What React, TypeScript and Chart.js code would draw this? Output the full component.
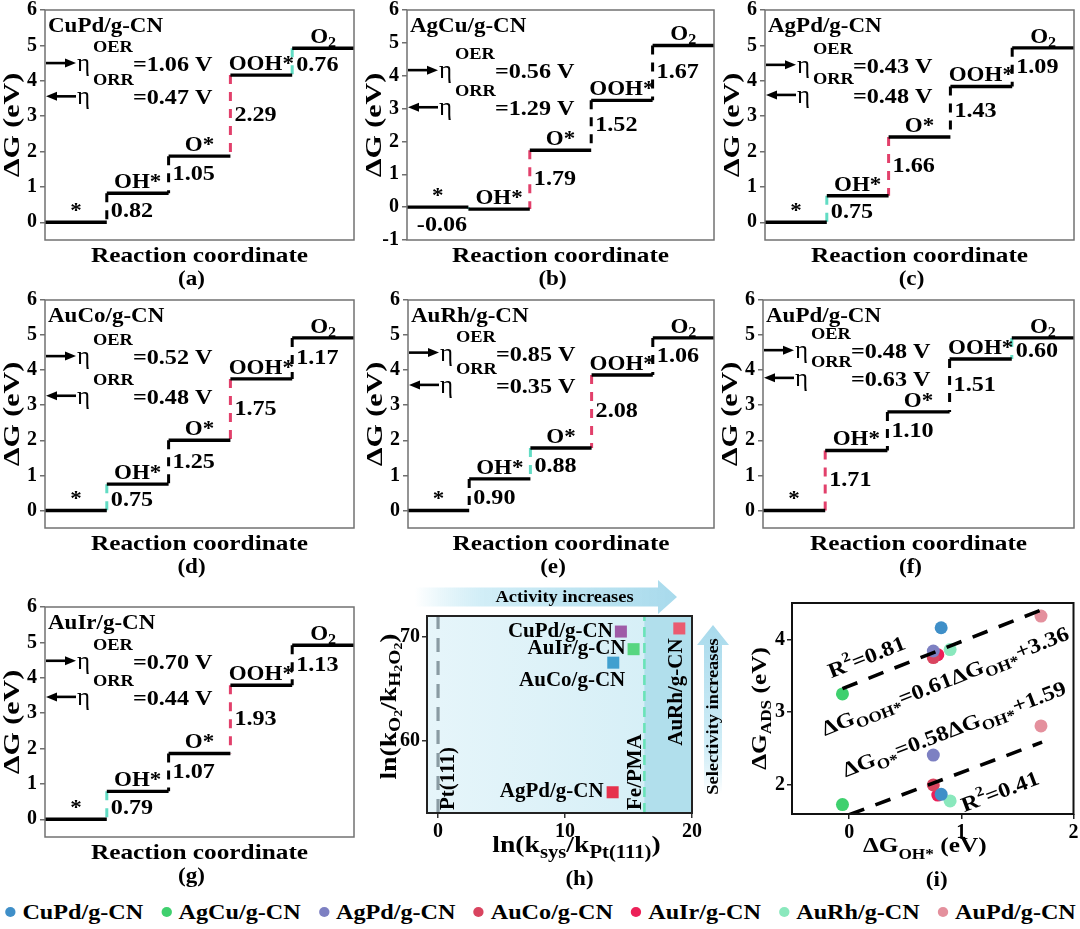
import React, { useEffect, useRef } from 'react';
import { Chart, registerables } from 'chart.js';
Chart.register(...registerables);

const FAM = '"Liberation Serif", "Times New Roman", Times, serif';
const K = 1.15;

// ---------------- data: free-energy diagrams (a)-(g) ----------------
const speciesLabels = ['*', 'OH*', 'O*', 'OOH*', 'O2'];
const panelNames = ['CuPd/g-CN', 'AgCu/g-CN', 'AgPd/g-CN', 'AuCo/g-CN', 'AuRh/g-CN', 'AuPd/g-CN', 'AuIr/g-CN'];

const levelsCuPd = [0, 0.82, 1.87, 4.16, 4.92];
const levelsAgCu = [0, -0.06, 1.73, 3.25, 4.92];
const levelsAgPd = [0, 0.75, 2.41, 3.84, 4.93];
const levelsAuCo = [0, 0.75, 2.0, 3.75, 4.92];
const levelsAuRh = [0, 0.9, 1.78, 3.86, 4.92];
const levelsAuPd = [0, 1.71, 2.81, 4.32, 4.92];
const levelsAuIr = [0, 0.79, 1.86, 3.79, 4.92];

const stepsCuPd = [0.82, 1.05, 2.29, 0.76];
const stepsAgCu = [-0.06, 1.79, 1.52, 1.67];
const stepsAgPd = [0.75, 1.66, 1.43, 1.09];
const stepsAuCo = [0.75, 1.25, 1.75, 1.17];
const stepsAuRh = [0.9, 0.88, 2.08, 1.06];
const stepsAuPd = [1.71, 1.1, 1.51, 0.6];
const stepsAuIr = [0.79, 1.07, 1.93, 1.13];

const etaOER = [1.06, 0.56, 0.43, 0.52, 0.85, 0.48, 0.7];
const etaORR = [0.47, 1.29, 0.48, 0.48, 0.35, 0.63, 0.44];

const energyTicks = [0, 1, 2, 3, 4, 5, 6];
const energyTicksAgCu = [-1, 0, 1, 2, 3, 4, 5, 6];

const allLevels = [levelsCuPd, levelsAgCu, levelsAgPd, levelsAuCo, levelsAuRh, levelsAuPd, levelsAuIr];
const allSteps = [stepsCuPd, stepsAgCu, stepsAgPd, stepsAuCo, stepsAuRh, stepsAuPd, stepsAuIr];

// ---------------- data: panel (h) ----------------
const hNames = ['CuPd/g-CN', 'AuIr/g-CN', 'AuCo/g-CN', 'AgPd/g-CN', 'AuRh/g-CN'];
const hX = [14.4, 15.4, 13.8, 13.75, 19.0];
const hY = [70.5, 68.8, 67.5, 55.0, 70.8];
const hColors = ['#9f5ba7', '#57d680', '#41a0cf', '#e6324c', '#ea5b70'];
const hRefX = [0, 16.25];
const hRefNames = ['Pt(111)', 'Fe/PMA'];
const hXTicks = [0, 10, 20];
const hYTicks = [60, 70];

// ---------------- data: panel (i) ----------------
const iNames = ['CuPd/g-CN', 'AgCu/g-CN', 'AgPd/g-CN', 'AuCo/g-CN', 'AuIr/g-CN', 'AuRh/g-CN', 'AuPd/g-CN'];
const iColors = ['#3f8fc8', '#3fd06e', '#7d80c2', '#d9445f', '#ec2058', '#8ae8bd', '#e4909d'];
const iOH = [0.82, -0.06, 0.75, 0.75, 0.79, 0.9, 1.71];
const iOOH = [4.16, 3.25, 3.84, 3.75, 3.79, 3.86, 4.32];
const iO = [1.87, 1.73, 2.41, 2.0, 1.86, 1.78, 2.81];
const fitOOH = { slope: 0.61, intercept: 3.36, r2: '0.81', from: -0.06, to: 1.72 };
const fitO = { slope: 0.58, intercept: 1.59, r2: '0.41', from: 0.0, to: 1.72 };
const iXTicks = [0, 1, 2];
const iYTicks = [2, 3, 4];

// ---------------- layout ----------------
type Rect = [number, number, number, number];
const stepLayout: { tag: string; canvas: Rect; plot: Rect; yMin: number; oerY: number; orrY: number }[] = [
  { tag: '(a)', canvas: [0, 0, 360, 290], plot: [45, 10, 354, 240], yMin: -0.5, oerY: 4.5, orrY: 3.56 },
  { tag: '(b)', canvas: [360, 0, 360, 290], plot: [407, 10, 714, 240], yMin: -1, oerY: 4.17, orrY: 3.04 },
  { tag: '(c)', canvas: [720, 0, 360, 290], plot: [765, 10, 1074, 240], yMin: -0.5, oerY: 4.45, orrY: 3.6 },
  { tag: '(d)', canvas: [0, 290, 360, 290], plot: [45, 300, 354, 528], yMin: -0.5, oerY: 4.4, orrY: 3.27 },
  { tag: '(e)', canvas: [360, 290, 360, 290], plot: [408, 300, 714, 528], yMin: -0.5, oerY: 4.5, orrY: 3.58 },
  { tag: '(f)', canvas: [720, 290, 360, 290], plot: [763, 300, 1074, 528], yMin: -0.5, oerY: 4.57, orrY: 3.78 },
  { tag: '(g)', canvas: [0, 580, 360, 310], plot: [45, 607, 354, 837], yMin: -0.5, oerY: 4.48, orrY: 3.46 },
];
const hLayout = { canvas: [360, 580, 380, 310] as Rect, plot: [427, 616, 692, 813] as Rect };
const iLayout = { canvas: [740, 580, 340, 310] as Rect, plot: [792, 603, 1074, 814] as Rect };

// ---------------- drawing helpers ----------------
type Seg = { t: string; s: number; dy?: number };
type RichOpt = { align?: 'left' | 'center' | 'right'; rot?: number; base?: CanvasTextBaseline; color?: string; k?: number; w?: string };
function drawRich(ctx: CanvasRenderingContext2D, x: number, y: number, segs: Seg[], opt: RichOpt = {}) {
  const k = opt.k ?? K;
  const w = opt.w ?? 'bold';
  ctx.save();
  ctx.translate(x, y);
  if (opt.rot) ctx.rotate(opt.rot);
  ctx.scale(k, 1);
  ctx.textBaseline = opt.base ?? 'alphabetic';
  ctx.textAlign = 'left';
  ctx.fillStyle = opt.color ?? '#000';
  const widths = segs.map((g) => {
    ctx.font = `${w} ${g.s}px ${FAM}`;
    return ctx.measureText(g.t).width;
  });
  const total = widths.reduce((a, b) => a + b, 0);
  let cx = opt.align === 'center' ? -total / 2 : opt.align === 'right' ? -total : 0;
  segs.forEach((g, i) => {
    ctx.font = `${w} ${g.s}px ${FAM}`;
    ctx.fillText(g.t, cx, g.dy ?? 0);
    cx += widths[i];
  });
  ctx.restore();
}

function smallArrow(ctx: CanvasRenderingContext2D, x0: number, x1: number, y: number, dir: 'right' | 'left') {
  const head = 11, hw = 4.5;
  ctx.save();
  ctx.strokeStyle = '#000';
  ctx.fillStyle = '#000';
  ctx.lineWidth = 2.6;
  ctx.beginPath();
  if (dir === 'right') {
    ctx.moveTo(x0, y); ctx.lineTo(x1 - head + 1, y); ctx.stroke();
    ctx.beginPath(); ctx.moveTo(x1, y); ctx.lineTo(x1 - head, y - hw); ctx.lineTo(x1 - head, y + hw); ctx.closePath(); ctx.fill();
  } else {
    ctx.moveTo(x0 + head - 1, y); ctx.lineTo(x1, y); ctx.stroke();
    ctx.beginPath(); ctx.moveTo(x0, y); ctx.lineTo(x0 + head, y - hw); ctx.lineTo(x0 + head, y + hw); ctx.closePath(); ctx.fill();
  }
  ctx.restore();
}

function bigArrow(ctx: CanvasRenderingContext2D, x0: number, y0: number, x1: number, y1: number, shaft: number, head: number, headLen: number) {
  const ang = Math.atan2(y1 - y0, x1 - x0);
  const len = Math.hypot(x1 - x0, y1 - y0);
  ctx.save();
  ctx.translate(x0, y0);
  ctx.rotate(ang);
  const g = ctx.createLinearGradient(0, 0, len, 0);
  g.addColorStop(0, 'rgba(190,230,243,0)');
  g.addColorStop(0.25, 'rgba(205,236,246,0.9)');
  g.addColorStop(1, 'rgba(168,218,236,1)');
  ctx.fillStyle = g;
  ctx.beginPath();
  ctx.moveTo(0, -shaft / 2);
  ctx.lineTo(len - headLen, -shaft / 2);
  ctx.lineTo(len - headLen, -head / 2);
  ctx.lineTo(len, 0);
  ctx.lineTo(len - headLen, head / 2);
  ctx.lineTo(len - headLen, shaft / 2);
  ctx.lineTo(0, shaft / 2);
  ctx.closePath();
  ctx.fill();
  ctx.restore();
}

const tickFont = { family: FAM, weight: 'bold' as const, size: 20 };

function fixedAxis(kind: 'x' | 'y', size: number, ticks?: number[]) {
  return {
    afterFit: (s: any) => {
      if (kind === 'x') s.height = size; else s.width = size;
      s.paddingLeft = 0; s.paddingRight = 0; s.paddingTop = 0; s.paddingBottom = 0;
    },
    ...(ticks ? { afterBuildTicks: (s: any) => { s.ticks = ticks.map((v) => ({ value: v })); } } : {}),
  };
}

// ---------------- step diagram config ----------------
function buildStep(i: number): any {
  const L = stepLayout[i];
  const levels = allLevels[i];
  const steps = allSteps[i];
  const [cx, cy, cw, ch] = L.canvas;
  const [pl, pt, pr, pb] = L.plot;
  const maxI = steps.indexOf(Math.max(...steps));
  const minI = steps.indexOf(Math.min(...steps));
  const datasets: any[] = [];
  levels.forEach((v, k) => {
    datasets.push({ data: [{ x: k, y: v }, { x: k + 1, y: v }], borderColor: '#000', borderWidth: 3.4, pointRadius: 0, borderCapStyle: 'butt' });
  });
  steps.forEach((s, j) => {
    const hi = Math.max(levels[j], levels[j + 1]);
    const lo = Math.min(levels[j], levels[j + 1]);
    const col = j === maxI ? '#e2406b' : j === minI ? '#62dcc4' : '#000';
    datasets.push({ data: [{ x: j + 1, y: hi }, { x: j + 1, y: lo }], borderColor: col, borderWidth: 3, borderDash: [9, 8], pointRadius: 0, borderCapStyle: 'butt' });
  });
  const ticks = L.yMin < -0.75 ? energyTicksAgCu : energyTicks;

  const plugin = {
    id: 'stepAnno' + i,
    afterDatasetsDraw(chart: any) {
      const { ctx, chartArea: a, scales } = chart;
      const x = scales.x, y = scales.y;
      ctx.save();
      ctx.strokeStyle = '#727272';
      ctx.lineWidth = 1.5;
      ctx.strokeRect(a.left, a.top, a.right - a.left, a.bottom - a.top);
      drawRich(ctx, a.left + 3, a.top + 22, [{ t: panelNames[i], s: 20 }]);
      const rows: [number, 'right' | 'left', string, number][] = [
        [L.oerY, 'right', 'OER', etaOER[i]],
        [L.orrY, 'left', 'ORR', etaORR[i]],
      ];
      rows.forEach(([yv, dir, sup, val]) => {
        const yy = y.getPixelForValue(yv);
        smallArrow(ctx, a.left + 1, a.left + 31, yy, dir);
        drawRich(ctx, a.left + 32, yy + 8, [{ t: 'η', s: 25 }], { k: 1, w: 'normal' });
        drawRich(ctx, a.left + 48, yy - 11, [{ t: sup, s: 16 }]);
        drawRich(ctx, a.left + 88, yy + 8, [{ t: `=${val.toFixed(2)} V`, s: 21 }]);
      });
      levels.forEach((v, k) => {
        const px = x.getPixelForValue(k + 0.5);
        const py = y.getPixelForValue(v) - 5;
        const name = speciesLabels[k];
        if (name === 'O2') drawRich(ctx, px, py, [{ t: 'O', s: 20 }, { t: '2', s: 14, dy: 4 }], { align: 'center' });
        else drawRich(ctx, px, py, [{ t: name, s: 20 }], { align: 'center' });
      });
      steps.forEach((s, j) => {
        const txt = s.toFixed(2);
        if (s < 0) {
          const lo = Math.min(levels[j], levels[j + 1]);
          drawRich(ctx, x.getPixelForValue(j + 0.57), y.getPixelForValue(lo - 0.5), [{ t: txt, s: 21 }], { align: 'center', base: 'middle' });
        } else {
          const mid = (levels[j] + levels[j + 1]) / 2 - (s < 0.95 ? 0.1 : 0);
          drawRich(ctx, x.getPixelForValue(j + 1) + 4, y.getPixelForValue(mid), [{ t: txt, s: 21 }], { base: 'middle' });
        }
      });
      drawRich(ctx, a.left - 32, (a.top + a.bottom) / 2, [{ t: 'ΔG (eV)', s: 23 }], { align: 'center', base: 'middle', rot: -Math.PI / 2, k: 1.3 });
      const mx = (a.left + a.right) / 2;
      drawRich(ctx, mx, a.bottom + 16, [{ t: 'Reaction coordinate', s: 22 }], { align: 'center', base: 'middle' });
      drawRich(ctx, mx - 8, a.bottom + 39, [{ t: L.tag, s: 22 }], { align: 'center', base: 'middle', k: 1.05 });
      ctx.restore();
    },
  };

  return {
    type: 'line',
    data: { datasets },
    options: {
      animation: false,
      responsive: false,
      devicePixelRatio: 1,
      layout: { padding: { left: 0, top: pt - cy, right: cx + cw - pr, bottom: 0 } },
      plugins: { legend: { display: false }, tooltip: { enabled: false } },
      scales: {
        x: {
          type: 'linear', min: 0, max: 5,
          ticks: { display: false }, grid: { display: false }, border: { display: false },
          ...fixedAxis('x', cy + ch - pb),
        },
        y: {
          type: 'linear', min: L.yMin, max: 6,
          ticks: { font: tickFont, color: '#000', padding: 3 },
          grid: { drawOnChartArea: false, tickLength: 5, color: '#6f6f6f', lineWidth: 1.5 },
          border: { display: false },
          ...fixedAxis('y', pl - cx, ticks),
        },
      },
    },
    plugins: [plugin],
  };
}

// ---------------- panel (h) config ----------------
function buildH(): any {
  const [cx, cy, cw, ch] = hLayout.canvas;
  const [pl, pt, pr, pb] = hLayout.plot;
  const datasets: any[] = [];
  hNames.forEach((n, k) => {
    datasets.push({ label: n, data: [{ x: hX[k], y: hY[k] }], pointStyle: 'rect', pointRadius: 8.5, backgroundColor: hColors[k], borderWidth: 0 });
  });
  hRefX.forEach((v, k) => {
    datasets.push({
      label: hRefNames[k], data: [{ x: v, y: 53 }, { x: v, y: 72 }], showLine: true, pointRadius: 0,
      borderColor: k === 0 ? '#8a9ba3' : '#6ae3b8', borderWidth: k === 0 ? 3.2 : 2.6, borderDash: k === 0 ? [14, 9] : [10, 6],
    });
  });
  const plugin = {
    id: 'hAnno',
    beforeDatasetsDraw(chart: any) {
      const { ctx, chartArea: a, scales } = chart;
      ctx.save();
      const g = ctx.createLinearGradient(a.left, 0, a.right, 0);
      g.addColorStop(0, '#e6f5fa');
      g.addColorStop(1, '#d3eef6');
      ctx.fillStyle = g;
      ctx.fillRect(a.left, a.top, a.right - a.left, a.bottom - a.top);
      const xf = scales.x.getPixelForValue(hRefX[1]);
      ctx.fillStyle = '#b1dfec';
      ctx.fillRect(xf, a.top, a.right - xf, a.bottom - a.top);
      ctx.restore();
    },
    afterDatasetsDraw(chart: any) {
      const { ctx, chartArea: a, scales } = chart;
      const x = scales.x, y = scales.y;
      ctx.save();
      ctx.strokeStyle = '#222';
      ctx.lineWidth = 2;
      ctx.strokeRect(a.left, a.top, a.right - a.left, a.bottom - a.top);
      drawRich(ctx, x.getPixelForValue(0.86), a.bottom - 3, [{ t: hRefNames[0], s: 20 }], { rot: -Math.PI / 2, base: 'middle', k: 1.05 });
      drawRich(ctx, x.getPixelForValue(15.55), a.bottom - 3, [{ t: hRefNames[1], s: 20 }], { rot: -Math.PI / 2, base: 'middle', k: 1.05 });
      const px = (k: number) => x.getPixelForValue(hX[k]);
      const py = (k: number) => y.getPixelForValue(hY[k]);
      drawRich(ctx, px(0) - 8, py(0), [{ t: hNames[0], s: 20 }], { align: 'right', base: 'middle', k: 1.05 });
      drawRich(ctx, px(1) - 8, py(1), [{ t: hNames[1], s: 20 }], { align: 'right', base: 'middle', k: 1.05 });
      drawRich(ctx, px(2) + 12, py(2) + 18, [{ t: hNames[2], s: 20 }], { align: 'right', base: 'middle', k: 1.05 });
      drawRich(ctx, px(3) - 9, py(3), [{ t: hNames[3], s: 20 }], { align: 'right', base: 'middle', k: 1.05 });
      drawRich(ctx, px(4) - 2, py(4) + 10, [{ t: hNames[4], s: 20 }], { align: 'right', base: 'middle', rot: -Math.PI / 2, k: 1.05 });
      bigArrow(ctx, a.left - 12, a.top - 19, a.right - 15, a.top - 19, 19, 34, 19);
      drawRich(ctx, (a.left + a.right) / 2 + 5, a.top - 18, [{ t: 'Activity increases', s: 16 }], { align: 'center', base: 'middle' });
      const ax = a.right + 21;
      bigArrow(ctx, ax, a.bottom - 20, ax, a.top + 9, 18, 32, 20);
      drawRich(ctx, ax + 1, (a.top + a.bottom) / 2 + 2, [{ t: 'Selectivity increases', s: 16 }], { align: 'center', base: 'middle', rot: -Math.PI / 2 });
      drawRich(ctx, a.left - 37, (a.top + a.bottom) / 2 - 8, [
        { t: 'ln(k', s: 24 }, { t: 'O', s: 17, dy: 6 }, { t: '2', s: 12, dy: 9 }, { t: '/k', s: 24 },
        { t: 'H', s: 17, dy: 6 }, { t: '2', s: 12, dy: 9 }, { t: 'O', s: 17, dy: 6 }, { t: '2', s: 12, dy: 9 }, { t: ')', s: 24 },
      ], { align: 'center', base: 'middle', rot: -Math.PI / 2 });
      drawRich(ctx, (a.left + a.right) / 2 + 17, a.bottom + 39, [
        { t: 'ln(k', s: 24 }, { t: 'sys', s: 18, dy: 6 }, { t: '/k', s: 24 }, { t: 'Pt(111)', s: 18, dy: 6 }, { t: ')', s: 24 },
      ], { align: 'center' });
      drawRich(ctx, (a.left + a.right) / 2 + 20, a.bottom + 66, [{ t: '(h)', s: 22 }], { align: 'center', base: 'middle', k: 1.05 });
      ctx.restore();
    },
  };
  return {
    type: 'scatter',
    data: { datasets },
    options: {
      animation: false,
      responsive: false,
      devicePixelRatio: 1,
      layout: { padding: { left: 0, top: pt - cy, right: cx + cw - pr, bottom: 0 } },
      plugins: { legend: { display: false }, tooltip: { enabled: false } },
      scales: {
        x: {
          type: 'linear', min: -0.87, max: 20,
          ticks: { font: tickFont, color: '#000', padding: 2 },
          grid: { drawOnChartArea: false, tickLength: 5, color: '#333', lineWidth: 1.5 },
          border: { display: false },
          ...fixedAxis('x', cy + ch - pb, hXTicks),
        },
        y: {
          type: 'linear', min: 53, max: 72,
          ticks: { font: tickFont, color: '#000', padding: 2 },
          grid: { drawOnChartArea: false, tickLength: 5, color: '#333', lineWidth: 1.5 },
          border: { display: false },
          ...fixedAxis('y', pl - cx, hYTicks),
        },
      },
    },
    plugins: [plugin],
  };
}

// ---------------- panel (i) config ----------------
function buildI(): any {
  const [cx, cy, cw, ch] = iLayout.canvas;
  const [pl, pt, pr, pb] = iLayout.plot;
  const datasets: any[] = [];
  [fitOOH, fitO].forEach((f) => {
    datasets.push({
      data: [{ x: f.from, y: f.slope * f.from + f.intercept }, { x: f.to, y: f.slope * f.to + f.intercept }],
      showLine: true, pointRadius: 0, borderColor: '#000', borderWidth: 3.6, borderDash: [16, 12],
    });
  });
  iNames.forEach((n, k) => {
    datasets.push({
      label: n, data: [{ x: iOH[k], y: iOOH[k] }, { x: iOH[k], y: iO[k] }],
      pointRadius: 6.5, backgroundColor: iColors[k], borderWidth: 0,
    });
  });
  const plugin = {
    id: 'iAnno',
    afterDatasetsDraw(chart: any) {
      const { ctx, chartArea: a, scales } = chart;
      const x = scales.x, y = scales.y;
      ctx.save();
      ctx.strokeStyle = '#111';
      ctx.lineWidth = 2;
      ctx.strokeRect(a.left, a.top, a.right - a.left, a.bottom - a.top);
      const ang = (f: { slope: number; intercept: number }) =>
        Math.atan2(y.getPixelForValue(f.intercept + f.slope) - y.getPixelForValue(f.intercept), x.getPixelForValue(1) - x.getPixelForValue(0));
      const r1 = ang(fitOOH), r2 = ang(fitO);
      const o = { align: 'center' as const, base: 'middle' as CanvasTextBaseline };
      drawRich(ctx, x.getPixelForValue(0.16), y.getPixelForValue(3.74), [{ t: 'R', s: 21 }, { t: '2', s: 14, dy: -8 }, { t: '=' + fitOOH.r2, s: 21 }], { ...o, rot: r1 });
      drawRich(ctx, x.getPixelForValue(0.86), y.getPixelForValue(3.41), [
        { t: 'ΔG', s: 21 }, { t: 'OOH*', s: 15, dy: 7 }, { t: `=${fitOOH.slope.toFixed(2)}ΔG`, s: 21 }, { t: 'OH*', s: 15, dy: 7 }, { t: `+${fitOOH.intercept.toFixed(2)}`, s: 21 },
      ], { ...o, rot: r1 });
      drawRich(ctx, x.getPixelForValue(0.94), y.getPixelForValue(2.75), [
        { t: 'ΔG', s: 21 }, { t: 'O*', s: 15, dy: 7 }, { t: `=${fitO.slope.toFixed(2)}ΔG`, s: 21 }, { t: 'OH*', s: 15, dy: 7 }, { t: `+${fitO.intercept.toFixed(2)}`, s: 21 },
      ], { ...o, rot: r2 });
      drawRich(ctx, x.getPixelForValue(1.35), y.getPixelForValue(1.89), [{ t: 'R', s: 21 }, { t: '2', s: 14, dy: -8 }, { t: '=' + fitO.r2, s: 21 }], { ...o, rot: r2 });
      drawRich(ctx, a.left - 32, (a.top + a.bottom) / 2, [{ t: 'ΔG', s: 22 }, { t: 'ADS', s: 15, dy: 7 }, { t: ' (eV)', s: 22 }], { align: 'center', base: 'middle', rot: -Math.PI / 2 });
      drawRich(ctx, (a.left + a.right) / 2 - 8, a.bottom + 38, [{ t: 'ΔG', s: 22 }, { t: 'OH*', s: 15, dy: 7 }, { t: ' (eV)', s: 22 }], { align: 'center' });
      drawRich(ctx, (a.left + a.right) / 2 + 4, a.bottom + 66, [{ t: '(i)', s: 22 }], { align: 'center', base: 'middle', k: 1.05 });
      ctx.restore();
    },
  };
  return {
    type: 'scatter',
    data: { datasets },
    options: {
      animation: false,
      responsive: false,
      devicePixelRatio: 1,
      layout: { padding: { left: 0, top: pt - cy, right: cx + cw - pr, bottom: 0 } },
      plugins: { legend: { display: false }, tooltip: { enabled: false } },
      scales: {
        x: {
          type: 'linear', min: -0.51, max: 2,
          ticks: { font: tickFont, color: '#000', padding: 2 },
          grid: { drawOnChartArea: false, tickLength: 5, color: '#222', lineWidth: 1.5 },
          border: { display: false },
          ...fixedAxis('x', cy + ch - pb, iXTicks),
        },
        y: {
          type: 'linear', min: 1.6, max: 4.5,
          ticks: { font: tickFont, color: '#000', padding: 2 },
          grid: { drawOnChartArea: false, tickLength: 5, color: '#222', lineWidth: 1.5 },
          border: { display: false },
          ...fixedAxis('y', pl - cx, iYTicks),
        },
      },
    },
    plugins: [plugin],
  };
}

function ChartCanvas({ rect, build }: { rect: Rect; build: () => any }) {
  const ref = useRef<HTMLCanvasElement>(null);
  useEffect(() => {
    const chart = new Chart(ref.current as HTMLCanvasElement, build());
    return () => chart.destroy();
  }, []);
  return (
    <canvas
      ref={ref}
      width={rect[2]}
      height={rect[3]}
      style={{ position: 'absolute', left: rect[0], top: rect[1], width: rect[2], height: rect[3] }}
    />
  );
}

const LEGEND_SCALE = 1.15;
const LEGEND_W = Math.round(1080 / LEGEND_SCALE);

export default function App() {
  return (
    <div style={{ position: 'absolute', left: 0, top: 0, width: 1080, height: 929, background: '#fff', overflow: 'hidden' }}>
      {stepLayout.map((L, i) => (
        <ChartCanvas key={L.tag} rect={L.canvas} build={() => buildStep(i)} />
      ))}
      <ChartCanvas rect={hLayout.canvas} build={buildH} />
      <ChartCanvas rect={iLayout.canvas} build={buildI} />
      <div
        style={{
          position: 'absolute', left: (1080 - LEGEND_W) / 2, top: 897, width: LEGEND_W, height: 30, display: 'flex',
          justifyContent: 'space-between', alignItems: 'center', padding: '0 4px', boxSizing: 'border-box',
          fontFamily: FAM, fontWeight: 'bold', fontSize: 21, color: '#000',
          transform: `scaleX(${LEGEND_SCALE})`, transformOrigin: 'center center',
        }}
      >
        {iNames.map((n, k) => (
          <div key={n} style={{ display: 'flex', alignItems: 'center', whiteSpace: 'nowrap' }}>
            <span style={{ display: 'inline-block', width: 9, height: 10, borderRadius: '50%', background: iColors[k], marginRight: 6 }} />
            <span>{n}</span>
          </div>
        ))}
      </div>
    </div>
  );
}
